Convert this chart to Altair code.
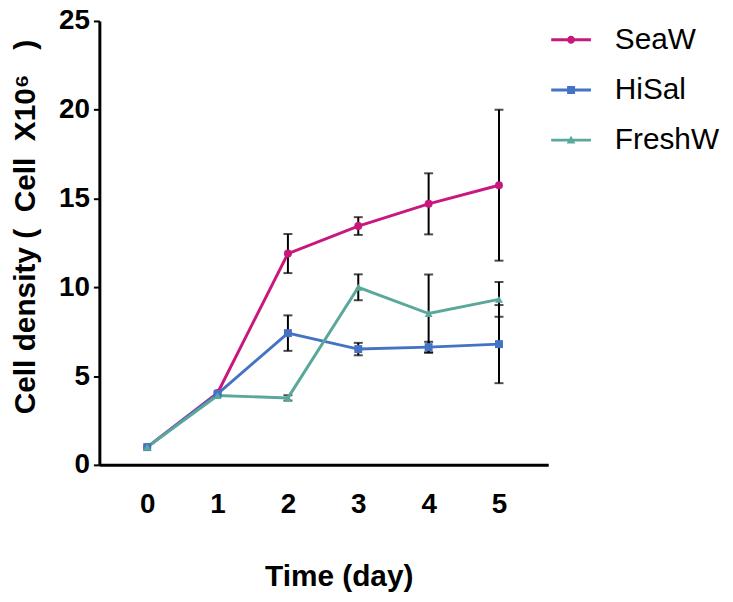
import altair as alt
import pandas as pd

days = [0, 1, 2, 3, 4, 5]
series_names = ["SeaW", "HiSal", "FreshW"]
seaw_mean = [1.0, 4.05, 11.9, 13.45, 14.7, 15.75]
seaw_err = [0.0, 0.0, 1.1, 0.5, 1.72, 4.25]
hisal_mean = [1.0, 4.0, 7.42, 6.52, 6.63, 6.8]
hisal_err = [0.0, 0.0, 1.0, 0.35, 0.3, 2.2]
freshw_mean = [1.0, 3.9, 3.77, 10.0, 8.52, 9.32]
freshw_err = [0.0, 0.0, 0.15, 0.73, 2.2, 0.98]
colors = ["#C8187E", "#4472C4", "#5AA89C"]
marker_shapes = ["circle", "square", "triangle-up"]
legend_paths = [
    "M-1,-0.075H1V0.075H-1Z M0.2,0A0.2,0.2,0,1,1,-0.2,0A0.2,0.2,0,1,1,0.2,0Z",
    "M-1,-0.075H1V0.075H-1Z M-0.2,-0.2H0.2V0.2H-0.2Z",
    "M-1,-0.075H1V0.075H-1Z M0,-0.22L0.22,0.17H-0.22Z",
]

rows = []
for name, means, errs in zip(series_names, [seaw_mean, hisal_mean, freshw_mean],
                             [seaw_err, hisal_err, freshw_err]):
    for d, m, e in zip(days, means, errs):
        rows.append({"day": d, "series": name, "mean": m, "lo": m - e, "hi": m + e, "err": e})
df = pd.DataFrame(rows)

FONT = "Liberation Sans"
NB = "\u00a0"
XTITLE = "Time (day)"
YTITLE = "Cell density (" + NB * 2 + "Cell" + NB * 2 + "X10\u2076" + NB * 3 + ")"

x_axis = alt.Axis(values=days, ticks=False, tickSize=0, grid=False, domainColor="black",
                  domainWidth=3, labelFontSize=28, labelFont=FONT, labelFontWeight="bold",
                  labelColor="black", labelPadding=26, labelFlush=False,
                  titleFontSize=30, titleFont=FONT, titleFontWeight="bold", titleColor="black",
                  titleX=241, titleY=121, titleAlign="center", titleBaseline="alphabetic")
y_axis = alt.Axis(values=[0, 5, 10, 15, 20, 25], tickSize=6, tickWidth=2, tickColor="black",
                  grid=False, domainColor="black", domainWidth=3, labelFontSize=28,
                  labelFont=FONT, labelFontWeight="bold", labelColor="black", labelPadding=4,
                  labelFlush=False, titleFontSize=30, titleFont=FONT, titleFontWeight="bold",
                  titleColor="black", titleAngle=270, titleX=-65, titleY=207,
                  titleAlign="center", titleBaseline="alphabetic")
x_scale = alt.Scale(domain=[-0.68, 5.7], nice=False, zero=False)
y_scale = alt.Scale(domain=[0, 25], nice=False)


def X():
    return alt.X("day:Q", scale=x_scale, axis=x_axis, title=XTITLE)


def Y(field):
    return alt.Y(field, scale=y_scale, axis=y_axis, title=YTITLE)


color_nolegend = alt.Color("series:N", scale=alt.Scale(domain=series_names, range=colors), legend=None)

base = alt.Chart(df)
err = base.transform_filter("datum.err > 0")
rule = err.mark_rule(color="black", strokeWidth=2).encode(x=X(), y=Y("lo:Q"), y2="hi:Q")
cap_lo = err.mark_tick(color="black", thickness=2, size=9, orient="horizontal").encode(x=X(), y=Y("lo:Q"))
cap_hi = err.mark_tick(color="black", thickness=2, size=9, orient="horizontal").encode(x=X(), y=Y("hi:Q"))

lines = base.mark_line(strokeWidth=3).encode(x=X(), y=Y("mean:Q"), color=color_nolegend,
                                             detail="series:N", order="day:Q")
points = base.mark_point(filled=True, size=64, opacity=1).encode(
    x=X(), y=Y("mean:Q"), color=color_nolegend,
    shape=alt.Shape("series:N", scale=alt.Scale(domain=series_names, range=marker_shapes), legend=None))

leg = dict(orient="none", legendX=455, legendY=-1, title=None, labelFontSize=30, labelFont=FONT,
           labelColor="black", symbolSize=1600, symbolOpacity=1, rowPadding=15.5, labelOffset=24,
           padding=0, symbolStrokeWidth=0)
legend_layer = base.mark_point(filled=True, opacity=0).encode(
    x=X(), y=Y("mean:Q"),
    color=alt.Color("series:N", scale=alt.Scale(domain=series_names, range=colors), legend=alt.Legend(**leg)),
    shape=alt.Shape("series:N", scale=alt.Scale(domain=series_names, range=legend_paths), legend=alt.Legend(**leg)))

chart = alt.layer(rule, cap_lo, cap_hi, lines, points, legend_layer).resolve_scale(
    color="independent", shape="independent"
).properties(
    width=452, height=447,
    autosize=alt.AutoSizeParams(type="none"),
    padding={"left": 92, "top": 11, "right": 178, "bottom": 128},
).configure_view(stroke=None)

chart.save("out.html", embed_options={"renderer": "svg", "actions": False})
